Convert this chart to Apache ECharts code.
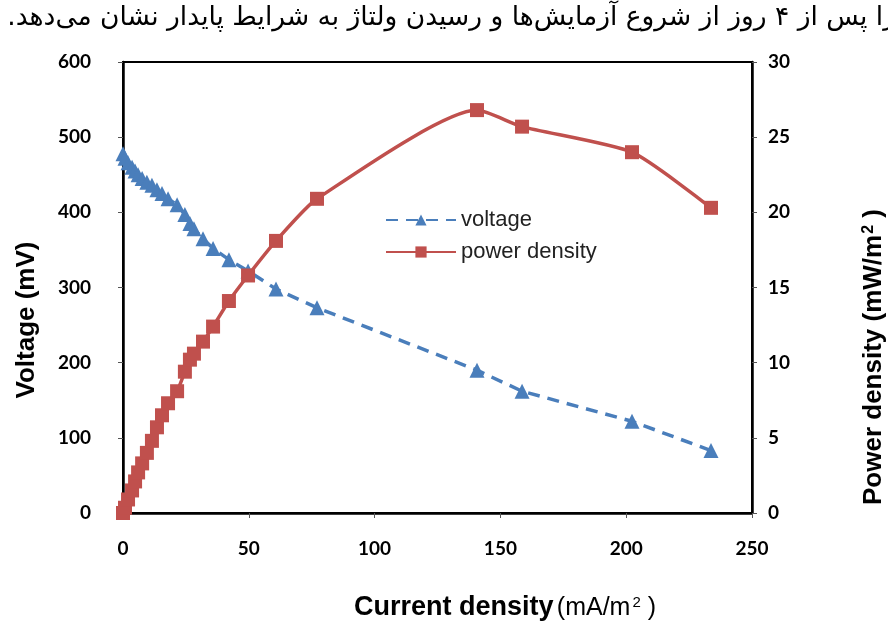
<!DOCTYPE html>
<html>
<head>
<meta charset="utf-8">
<script src="https://cdn.jsdelivr.net/npm/echarts@6/dist/echarts.min.js"></script>
<style>html,body{margin:0;padding:0;background:#fff;}#c{width:888px;height:623px;}</style>
</head>
<body>
<div id="c"></div>
<script>
// Current density (mA/m2)
const currentDensity = [0.0, 0.8, 2.0, 3.6, 4.8, 6.0, 7.6, 9.5, 11.5, 13.5, 15.5, 17.9, 21.5, 24.6, 26.6, 28.2, 31.8, 35.8, 42.1, 49.7, 60.8, 77.1, 140.7, 158.6, 202.3, 233.7];
// Voltage (mV)
const voltage = [478, 472, 466, 460, 455, 450, 445, 440, 436, 430, 425, 418, 410, 397, 385, 378, 365, 352, 337, 322, 298, 273, 190, 162, 122, 83];
// Power density (mW/m2)
const powerDensity = [0.0, 0.35, 0.9, 1.5, 2.1, 2.7, 3.3, 4.0, 4.8, 5.7, 6.5, 7.3, 8.1, 9.4, 10.2, 10.6, 11.4, 12.4, 14.1, 15.8, 18.1, 20.9, 26.8, 25.7, 24.0, 20.3];
const xTicks = [0, 50, 100, 150, 200, 250];
const leftTicks = [0, 100, 200, 300, 400, 500, 600];
const rightTicks = [0, 5, 10, 15, 20, 25, 30];

const chart = echarts.init(document.getElementById('c'));
const labelFont = {fontFamily: 'Lato, "Open Sans", sans-serif', fontWeight: 'bold', fontSize: 19, color: '#000'};
const axisLine = {show: true, lineStyle: {color: '#000', width: 2.5}};
const axisTick = {show: true, inside: false, length: 5, lineStyle: {color: '#555', width: 1}};
const titleFamily = '"Liberation Sans", Arial, sans-serif';

chart.setOption({
  animation: false,
  backgroundColor: '#fff',
  grid: {left: 123, right: 136, top: 62, bottom: 110, show: true, borderColor: '#000', borderWidth: 2},
  legend: {
    orient: 'vertical', left: 380, top: 204,
    itemWidth: 70, itemHeight: 14, itemGap: 10,
    textStyle: {fontFamily: titleFamily, fontSize: 22, color: '#222'},
    data: ['voltage', 'power density']
  },
  xAxis: {
    type: 'value', min: xTicks[0], max: xTicks[xTicks.length - 1], interval: 50,
    axisLine: axisLine, axisTick: axisTick, splitLine: {show: false},
    axisLabel: Object.assign({margin: 26}, labelFont)
  },
  yAxis: [
    {type: 'value', min: leftTicks[0], max: leftTicks[leftTicks.length - 1], interval: 100, position: 'left',
     axisLine: axisLine, axisTick: axisTick, splitLine: {show: false},
     axisLabel: Object.assign({margin: 32}, labelFont)},
    {type: 'value', min: rightTicks[0], max: rightTicks[rightTicks.length - 1], interval: 5, position: 'right',
     axisLine: axisLine, axisTick: axisTick, splitLine: {show: false},
     axisLabel: Object.assign({margin: 16}, labelFont)}
  ],
  series: [
    {
      name: 'voltage', type: 'line', yAxisIndex: 0,
      data: currentDensity.map((x, i) => [x, voltage[i]]),
      symbol: 'triangle', symbolSize: 15, color: '#4A7EBB',
      lineStyle: {color: '#4A7EBB', width: 3.5, type: [12, 8]},
      itemStyle: {color: '#4A7EBB'}, z: 3
    },
    {
      name: 'power density', type: 'line', yAxisIndex: 1,
      data: currentDensity.map((x, i) => [x, powerDensity[i]]),
      symbol: 'rect', symbolSize: 14, smooth: 0.2, color: '#C0504D',
      lineStyle: {color: '#C0504D', width: 3.5},
      itemStyle: {color: '#C0504D'}, z: 4
    }
  ],
  graphic: [
    {type: 'text', right: -8, top: 5, style: {
      text: '.را پس از ۴ روز از شروع آزمایش‌ها و رسیدن ولتاژ به شرایط پایدار نشان می‌دهد',
      fontFamily: '"DejaVu Sans", sans-serif', fontSize: 26.5, fill: '#000'}},
    {type: 'text', x: 27, y: 320, rotation: Math.PI / 2, style: {
      text: 'Voltage (mV)', fontFamily: titleFamily, fontWeight: 'bold', fontSize: 26,
      fill: '#000', align: 'center', verticalAlign: 'middle'}},
    {type: 'text', x: 874, y: 357, rotation: Math.PI / 2, style: {
      text: '{b|Power density (mW/m}{s|2}{b| )}',
      align: 'center', verticalAlign: 'middle',
      rich: {
        b: {fontFamily: titleFamily, fontWeight: 'bold', fontSize: 26, fill: '#000'},
        s: {fontFamily: titleFamily, fontWeight: 'bold', fontSize: 16, fill: '#000', padding: [0, 0, 10, 1]}
      }}},
    {type: 'text', x: 505, y: 608, style: {
      text: '{b|Current density} {r|(mA/m}{s|2}{r| )}',
      align: 'center', verticalAlign: 'middle',
      rich: {
        b: {fontFamily: titleFamily, fontWeight: 'bold', fontSize: 27, fill: '#000'},
        r: {fontFamily: titleFamily, fontSize: 25, fill: '#000'},
        s: {fontFamily: titleFamily, fontSize: 15, fill: '#000', padding: [0, 0, 10, 2]}
      }}}
  ]
});
</script>
</body>
</html>
